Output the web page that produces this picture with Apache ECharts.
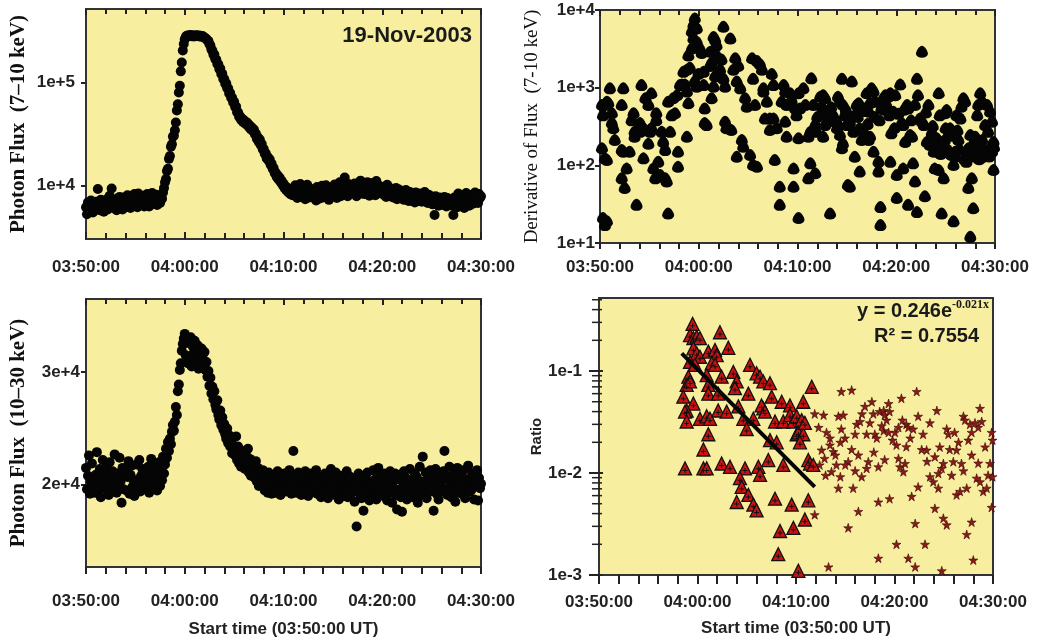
<!DOCTYPE html>
<html>
<head>
<meta charset="utf-8">
<script src="https://cdn.jsdelivr.net/npm/echarts@6/dist/echarts.min.js"></script>
<style>
html,body{margin:0;padding:0;background:#fff;}
#chart{width:1041px;height:639px;}
</style>
</head>
<body>
<div id="chart"></div>
<script>
// ---------- DATA ----------
// Panel 1: photon flux 7-10 keV, one value every 0.1 min from 03:50:00
const flux7to10Step = 0.1;
const flux7to10 = [
6200,5300,6900,6000,5700,7200,6400,5500,6800,5900,
7000,6100,9300,6500,5800,7300,6300,6900,5600,6700,
6200,7400,5900,6900,8000,6400,9400,7000,6100,7300,
6600,5800,7500,6800,7800,6200,7100,5900,7700,6700,
7300,6300,8100,6600,7600,6100,7900,7000,6400,8300,
6700,7700,6200,8400,7100,6500,7800,6800,8000,6300,
7300,6600,8300,7000,6300,7900,7200,8500,6700,7500,
7000,8200,6500,7700,7200,6800,7900,7500,8600,9500,
10800,11600,13900,14600,18200,19400,23800,25200,29900,30500,
34500,41000,53500,61500,80000,93000,128000,156000,204000,236000,
262000,275000,283000,279000,286000,281000,288000,280000,285000,278000,
284000,280000,287000,282000,285000,279000,283000,277000,281000,275000,
272000,266000,263000,255000,251000,236000,228000,209000,203000,186000,
186000,168000,166000,151000,150000,135000,136000,121000,121000,108000,
108000,97000,98000,88000,88000,78000,79000,71000,71000,64000,
65000,58000,58500,51500,51500,46500,47000,43500,44500,41500,
43000,40000,41500,39000,40000,37000,38000,35000,36500,34000,
35000,31500,32000,28500,29500,26500,28000,24800,25300,22500,
22700,20400,20600,18400,19000,17500,18000,16000,16300,14600,
14800,13300,13400,12200,12600,11500,12000,10900,11200,10200,
10500,9500,9900,9000,9500,8600,9100,8300,8900,8100,
9500,8200,10100,8600,7600,9200,8900,10400,8000,9300,
8100,9600,7400,8900,10200,8300,7700,9400,8600,7900,
9100,7800,8800,7200,9700,8300,7500,9000,8100,10000,
7700,9300,8400,10100,7900,8800,7300,9500,8200,9000,
9600,8100,10300,8500,7600,9200,8700,10800,7900,9000,
8300,9800,12000,8700,9400,7900,10400,9000,8500,10100,
9700,8600,10500,9100,7900,10200,8800,9600,11200,8400,
9000,10300,8300,9800,8700,10800,9200,8000,9900,8900,
10600,8700,9400,8100,11100,9000,8500,10000,8800,9500,
8400,9700,8100,9300,7800,10200,8700,9100,7900,9400,
9000,7700,8700,8100,9500,7400,8600,9200,7900,8300,
7600,8800,7300,8400,9100,7700,8200,7100,8700,7900,
8300,7200,8000,6900,8600,7500,7900,7100,8400,7600,
7000,8100,7300,8700,7200,7800,6800,8200,7400,7900,
7600,6600,7300,5200,7900,6900,7400,6400,7700,7000,
6800,7500,6500,7800,7000,6300,7600,6900,7300,6600,
7200,6400,5200,7700,6700,7400,6200,8400,6900,7300,
6600,7900,7000,6100,7500,8500,6800,7200,6400,7800,
7100,8200,6700,7800,8600,7000,7500,6800,8300,7600,
7900
];

// Panel 3: photon flux 10-30 keV, one value every 0.1 min from 03:50:00
const flux10to30Step = 0.1;
const flux10to30 = [
21500,19600,20800,22600,19200,20300,21900,19800,20600,19300,
20900,22900,19500,20200,21400,18900,20700,22200,19700,21100,
19900,21600,20400,19100,22000,20500,19400,21200,20100,22700,
20600,19300,21000,19800,22400,20300,18400,21500,19600,20800,
21300,19500,20700,22100,19200,20900,21700,19800,20400,19000,
20200,21800,19700,20500,22200,19400,20800,21400,19900,20600,
21000,19600,20300,21600,19300,20900,22300,19800,20500,21200,
20100,21700,19500,20800,22000,19900,21300,20400,22500,21000,
21800,23200,22400,23800,23000,24100,23600,24700,25300,24800,
25600,26900,26200,28300,28900,30200,30800,31900,32500,33000,
33400,31500,32600,30800,32900,31200,33100,30500,32300,31700,
32800,30900,31600,32400,30300,31900,30700,32100,31300,30600,
31800,30200,30900,29600,30100,28800,29500,28100,28700,27600,
28300,27100,26700,27500,26200,25800,26600,25300,26000,24900,
25400,24500,24100,25000,23700,24400,23400,23900,22800,23500,
23100,22600,24300,22200,23400,21900,22800,21600,23000,22100,
22600,21400,22900,21800,23200,21100,22300,20800,22000,21500,
21200,20600,22100,20300,21500,19900,21000,20500,20100,21300,
20700,19500,20900,20200,19300,21100,19800,20400,19200,20600,
19900,20800,19300,20400,21200,19600,20100,19100,20700,20300,
19700,21000,20200,19400,20600,19800,21300,20000,19200,20500,
23000,19900,20700,19300,20300,21100,19600,20900,19100,20400,
20100,19500,21200,19800,20600,19000,20400,21000,19700,20200,
19400,20800,20000,21300,19200,20500,19900,20700,18900,20300,
20600,19300,21000,19700,20200,18800,20900,19500,21400,20000,
19800,20500,19100,21100,19600,20300,18700,20800,19400,20100,
20400,19000,20900,19500,21200,18900,20200,19700,20700,19300,
19600,20600,18500,20100,16300,19800,21000,19200,20400,18800,
20200,17700,19500,20700,19000,21100,19700,18600,20300,19400,
19900,21300,19100,20500,18700,20000,21500,19300,20800,19600,
20100,19000,21000,19500,20400,18600,20700,19800,21200,19300,
18400,20300,19700,21000,19100,17800,20500,19400,20900,18900,
17600,19900,21200,19200,20600,18700,20100,19600,21400,19000,
20400,18900,19800,21000,19300,20700,18400,20200,21600,19500,
19100,22500,20300,19600,21100,18800,20000,20800,19400,21300,
19700,20600,17700,20100,21400,19200,20400,18700,21000,19800,
20300,19400,21200,23000,19600,20800,19100,20500,21600,19900,
18900,20700,19700,21100,18500,20200,21500,19300,20600,19800,
20900,19200,21300,20000,18800,20500,19600,21700,19400,20300,
19500,21000,20200,18700,20800,19900,21300,18600,20600,19700,
20100
];

// Panel 2: derivative of flux [minutes after 03:50, value]
const derivative = [
[0.2,600],[0.3,440],[0.5,600],[0.7,660],[0.2,166],[0.5,123],[0.7,117],[0.3,21],[0.5,17],[0.7,19],
[1.0,980],[1.2,470],[1.2,350],[1.35,300],[1.5,212],[0.84,630],[2.2,600],[2.36,980],[2.2,157],[2.36,150],
[2.5,51],[2.7,91],[2.2,68],[3.2,380],[3.4,470],[3.5,234],[3.7,31],[3.0,150],[3.5,270],[4.05,350],
[4.2,1080],[4.4,123],[4.6,730],[4.05,270],[4.4,300],[4.9,600],[4.9,190],[5.2,850],[5.2,300],[5.4,91],
[5.07,270],[5.7,470],[5.7,380],[5.9,111],[6.1,75],[6.25,270],[5.6,68],[6.4,200],[6.6,68],[6.76,62],
[6.9,24],[6.9,660],[7.1,270],[6.6,157],[7.26,440],[7.4,730],[7.6,470],[7.8,800],[7.9,96],[7.9,150],
[8.1,1080],[8.3,1100],[8.6,1100],[8.8,890],[8.95,630],[8.8,234],[8.45,1600],[8.8,1700],[9.1,1800],[8.95,2600],
[9.3,5300],[9.46,6400],[9.6,7800],[9.8,5800],[9.46,4300],[9.8,3900],[9.3,3200],[9.6,1200],[9.97,1500],[9.8,1030],
[10.1,3200],[10.3,2800],[10.5,1080],[10.6,350],[10.8,330],[10.6,540],[10.5,1600],[11.15,1900],[11.15,2900],[11.3,2100],
[11.5,4500],[11.66,4100],[11.8,3500],[11.3,730],[11.5,1030],[11.66,1400],[11.8,2600],[12.16,1700],[12.3,2300],[12.5,6100],
[12.67,365],[12.8,300],[12.5,1300],[12.67,1030],[13.2,4300],[13.3,285],[13.5,1700],[13.7,2400],[13.85,129],[13.85,1200],
[14.0,1900],[14.2,980],[14.36,212],[14.5,174],[14.7,730],[14.86,570],[15.2,136],[15.4,2400],[15.5,1300],[15.5,101],
[15.7,600],[15.9,96],[15.9,2200],[16.2,2000],[16.4,1700],[16.55,980],[16.55,890],[16.7,400],[16.9,660],[17.2,400],
[17.4,1500],[17.57,1080],[17.7,117],[17.9,300],[17.2,285],[17.57,400],[18.2,53],[18.2,31],[18.4,660],[18.6,1080],
[18.75,365],[18.9,234],[18.9,600],[18.75,890],[19.26,850],[19.4,690],[19.6,91],[19.6,53],[19.76,540],[19.9,440],
[20.1,223],[20.1,21],[20.1,850],[20.25,540],[20.6,980],[20.8,600],[21.3,270],[21.4,1320],[21.6,600],[21.8,330],
[21.9,270],[21.1,234],[21.3,106],[21.1,68],[21.8,79],[22.3,765],[22.45,570],[22.6,800],[22.8,730],[22.8,330],
[22.96,440],[23.1,365],[23.3,24],[22.6,234],[23.6,440],[23.8,380],[23.97,365],[24.1,765],[24.3,660],[24.5,1300],
[24.6,600],[24.8,440],[24.3,246],[24.5,166],[24.6,190],[25.1,56],[25.3,53],[25.0,330],[25.5,1200],[25.66,270],
[25.8,440],[26.0,600],[26.2,630],[26.3,300],[26.5,212],[25.8,129],[26.3,83],[26.7,270],[26.8,540],[27.0,850],
[27.2,490],[27.35,630],[27.5,980],[27.7,890],[27.85,660],[27.2,212],[27.35,234],[27.7,150],[28.2,111],[28.2,83],
[28.4,29],[28.4,17],[28.5,540],[28.7,730],[28.9,800],[29.0,600],[29.2,765],[29.4,850],[29.5,258],[29.7,490],
[29.4,111],[29.9,800],[30.05,75],[30.05,38],[30.4,1100],[30.56,350],[30.7,330],[30.9,200],[31.1,600],[31.2,540],
[31.4,246],[31.6,234],[31.2,31],[30.7,91],[31.9,600],[32.1,1300],[32.2,800],[32.4,400],[32.6,365],[32.6,2900],
[31.7,106],[31.9,62],[32.1,25],[32.9,40],[33.1,200],[33.26,600],[33.4,183],[33.8,150],[33.9,91],[34.1,223],
[34.3,850],[34.4,440],[34.6,183],[34.3,87],[34.8,68],[34.6,24],[34.95,470],[35.1,515],[35.3,246],[35.45,300],
[35.6,136],[35.8,101],[35.96,150],[35.8,19],[36.1,440],[36.3,212],[36.5,400],[36.6,570],[36.8,730],[36.97,660],
[37.1,111],[37.3,166],[37.5,246],[37.65,68],[37.3,51],[37.8,28],[37.5,12],[38.0,234],[38.2,440],[38.3,600],
[38.5,850],[38.7,660],[38.8,129],[39.0,330],[39.2,600],[39.5,490],[39.7,365],[39.85,200],[39.7,150],[39.85,87],
[39.5,166],[39.3,270],[38.7,212],
[33.6,260],[34.0,170],[34.5,140],[34.9,210],[35.2,160],[35.5,240],[36.0,130],[36.4,160],[36.9,120],[37.2,140],
[37.7,130],[38.1,150],[38.4,120],[38.9,150],[39.4,130],[39.9,170],[35.0,300],[36.2,280],[37.9,200],[38.6,180],
[22.0,420],[22.7,500],[23.4,560],[24.0,300],[24.9,520],[25.3,360],[26.1,420],[26.6,500],[27.1,340],[27.8,420],
[28.3,380],[28.8,520],[29.3,440],[29.8,300],[30.2,460],[30.8,520],[31.5,380],[32.8,330],[33.0,480],[33.7,320]
];

// Panel 4: ratio during rise/decay (triangles) and afterwards (stars)
const ratioFlare = [
[9.5,0.29],[9.24,0.225],[9.58,0.21],[9.92,0.217],[10.25,0.21],[12.28,0.24],[13.13,0.169],[9.58,0.167],[9.92,0.149],[10.25,0.138],
[11.1,0.155],[11.78,0.161],[11.95,0.143],[9.24,0.123],[9.75,0.115],[11.44,0.119],[11.78,0.115],[9.07,0.088],[8.9,0.073],[9.24,0.079],
[10.93,0.091],[11.1,0.073],[12.45,0.088],[13.64,0.098],[13.98,0.079],[13.8,0.068],[15.33,0.115],[16.0,0.095],[16.35,0.088],[16.68,0.079],
[17.36,0.076],[8.56,0.056],[9.58,0.048],[11.1,0.060],[12.1,0.060],[8.9,0.041],[8.73,0.040],[10.25,0.034],[10.93,0.036],[11.27,0.034],
[12.1,0.041],[12.96,0.040],[8.9,0.032],[14.15,0.045],[15.16,0.060],[16.68,0.043],[17.53,0.056],[18.55,0.050],[19.39,0.046],[11.1,0.024],
[10.6,0.017],[14.65,0.034],[15.67,0.034],[14.99,0.027],[16.5,0.046],[16.85,0.040],[17.87,0.032],[18.71,0.032],[19.39,0.037],[19.73,0.032],
[20.07,0.024],[17.36,0.021],[18.04,0.020],[8.73,0.0111],[10.6,0.0111],[10.93,0.0111],[12.45,0.0124],[13.3,0.0115],[14.82,0.0111],[16.18,0.0115],
[16.35,0.0096],[17.19,0.0134],[18.71,0.0120],[14.31,0.0089],[14.48,0.0073],[15.16,0.0061],[13.98,0.0052],[15.67,0.0049],[16.0,0.0043],[17.87,0.0056],
[19.56,0.0049],[18.38,0.0027],[19.73,0.0029],[18.2,0.0016],[20.24,0.0011],
[21.6,0.070],[20.74,0.050],[20.07,0.036],[20.57,0.033],[20.24,0.025],[20.74,0.024],[20.4,0.020],[20.9,0.031],[21.25,0.0134],[21.42,0.0124],
[21.76,0.0120],[21.25,0.0054],[20.9,0.0035]
];
const ratioLate = [
[21.9,0.038],[22.8,0.037],[22.3,0.028],[23.1,0.025],[23.45,0.022],[22.6,0.0168],[22.9,0.0139],[23.45,0.0188],[23.8,0.0162],[23.6,0.0103],
[24.1,0.012],[24.5,0.020],[24.3,0.036],[24.8,0.037],[24.6,0.027],[24.97,0.022],[24.5,0.0092],[24.3,0.0071],[25.8,0.0071],[25.3,0.0129],
[25.65,0.017],[26.0,0.024],[26.16,0.030],[26.5,0.032],[26.33,0.015],[26.7,0.038],[27.0,0.045],[27.17,0.024],[27.34,0.0129],[27.7,0.050],
[27.5,0.031],[27.85,0.038],[28.0,0.024],[28.36,0.0115],[28.2,0.022],[28.5,0.040],[28.9,0.041],[29.0,0.037],[29.2,0.033],[29.5,0.040],
[29.4,0.048],[28.9,0.026],[29.4,0.025],[30.05,0.025],[30.2,0.0188],[30.4,0.028],[30.7,0.054],[31.2,0.030],[31.4,0.028],[30.4,0.0139],
[30.56,0.0115],[30.9,0.0103],[31.07,0.0124],[31.2,0.0181],[31.9,0.027],[32.25,0.063],[32.4,0.036],[32.76,0.017],[33.26,0.0168],[33.6,0.031],
[34.3,0.041],[34.1,0.0144],[34.45,0.0099],[34.8,0.0111],[34.96,0.0124],[35.3,0.027],[35.46,0.024],[35.6,0.017],[35.97,0.0129],[36.3,0.0168],
[36.5,0.020],[36.8,0.0124],[37.0,0.036],[37.16,0.033],[37.33,0.0071],[37.66,0.030],[37.83,0.025],[38.17,0.031],[38.34,0.0089],[38.5,0.028],
[38.68,0.043],[38.85,0.032],[39.0,0.0066],[39.36,0.0071],[39.7,0.0124],[39.86,0.025],[39.95,0.021],[39.95,0.0092],[37.5,0.021],[37.83,0.015],
[27.17,0.0111],[26.67,0.0092],
[21.9,0.0039],[23.3,0.0012],[25.3,0.0029],[26.33,0.0042],[28.36,0.0052],[29.5,0.0056],[28.36,0.00146],[30.2,0.0020],[31.4,0.00146],[32.1,0.0012],
[33.1,0.0020],[34.8,0.0011],[34.1,0.0045],[34.96,0.0036],[35.3,0.0031],[32.1,0.0032],[31.74,0.0059],[32.4,0.0073],[33.6,0.0092],[33.94,0.0082],
[34.45,0.0071],[36.3,0.0061],[36.65,0.0066],[37.33,0.0025],[37.83,0.0033],[38.0,0.0014],[38.68,0.0082],[39.86,0.0046],[24.6,0.063],[25.65,0.065],
[22.4,0.012],[23.0,0.0095],[24.0,0.015],[25.0,0.012],[26.0,0.0105],[27.9,0.016],[29.0,0.0135],[29.8,0.021],[31.6,0.022],[32.9,0.024],
[33.3,0.013],[34.6,0.018],[35.8,0.0095],[36.1,0.025],[37.0,0.0105],[38.5,0.0125],[39.2,0.018],[39.5,0.0095],[30.8,0.033],[28.7,0.029]
];
// Exponential fit line end points
const fitLine = [[8.4,0.149],[21.9,0.0073]];

// Tick values
const timeStartMinutes = 230; // 03:50
const p1YTicks = [1e4, 1e5];
const p2YTicks = [10, 100, 1000, 10000];
const p3YTicks = [20000, 30000];
const p4YTicks = [0.001, 0.01, 0.1];
const p4YMinor = [0.002,0.003,0.004,0.005,0.006,0.007,0.008,0.009,0.02,0.03,0.04,0.05,0.06,0.07,0.08,0.09,0.2,0.3,0.4,0.5];

// ---------- CHART ----------
const BG = '#F7EF9F';
const INK = '#222';
const SANS = '"Liberation Sans", Arial, sans-serif';
const SERIF = '"Liberation Serif", "Times New Roman", serif';
const P4_MIN = 0.001, P4_MAX = 0.52;

function pad(n){ return (n < 10 ? '0' : '') + n; }
function fmtTime(v){
  const tot = timeStartMinutes + v;
  const h = Math.floor(tot / 60), m = Math.round(tot % 60);
  return pad(h) + ':' + pad(m) + ':00';
}
function expLabel(e){ return '1e' + (e >= 0 ? '+' : '-') + Math.abs(e); }
function fmtExp(v){
  const e = Math.round(Math.log10(v));
  if (Math.abs(Math.log10(v) - e) > 1e-6) return '';
  return expLabel(e);
}
const p1Data = flux7to10.map((v, i) => [+(i * flux7to10Step).toFixed(2), v]);
const p3Data = flux10to30.map((v, i) => [+(i * flux10to30Step).toFixed(2), v]);
// tick marks of the ratio axis, placed on the left edge (x = 0) through the log scale
const p4MajorTickMarks = p4YTicks.map(v => [0, v]);
const p4MinorTickMarks = p4YMinor.map(v => [0, v]);

function xBottom(grid, opts){
  return Object.assign({
    gridIndex: grid, type: 'value', min: 0, max: 40, interval: 10, position: 'bottom',
    axisLine: {show: false}, splitLine: {show: false},
    axisTick: {show: true, inside: true, length: 7, lineStyle: {color: INK, width: 2}},
    minorTick: {show: true, splitNumber: 5, length: 6, lineStyle: {color: INK, width: 2}},
    axisLabel: {formatter: fmtTime, fontFamily: SANS, fontWeight: 'bold', fontSize: 17, color: INK, margin: 20}
  }, opts || {});
}
function xTop(grid){
  return {
    gridIndex: grid, type: 'value', min: 0, max: 40, interval: 10, position: 'top',
    axisLine: {show: false}, splitLine: {show: false}, axisLabel: {show: false},
    axisTick: {show: true, inside: true, length: 6, lineStyle: {color: INK, width: 2}},
    minorTick: {show: true, splitNumber: 5, length: 5, lineStyle: {color: INK, width: 2}}
  };
}
function xlab(margin){
  return {formatter: fmtTime, fontFamily: SANS, fontWeight: 'bold', fontSize: 17, color: INK, margin: margin};
}
const ylabel = {fontFamily: SANS, fontWeight: 'bold', fontSize: 17, color: INK};

const bellPath = 'path://M10,1 C14,1 19,9 19,13 A9,6 0 0 1 1,13 C1,9 6,1 10,1 Z';
const starPath = 'path://M50,0 L61,35 L98,35 L68,57 L79,91 L50,70 L21,91 L32,57 L2,35 L39,35 Z';
const plusPath = 'path://M4,0 H6 V4 H10 V6 H6 V10 H4 V6 H0 V4 H4 Z';

const option = {
  animation: false,
  backgroundColor: '#ffffff',
  grid: [
    {left: 86, top: 9, width: 395, height: 230, show: true, backgroundColor: BG, borderColor: '#333', borderWidth: 2},
    {left: 600, top: 10, width: 395, height: 233, show: true, backgroundColor: BG, borderColor: '#333', borderWidth: 2},
    {left: 86, top: 299, width: 395, height: 269, show: true, backgroundColor: BG, borderColor: '#333', borderWidth: 2},
    {left: 599, top: 298, width: 394, height: 277, show: true, backgroundColor: BG, borderColor: '#333', borderWidth: 2}
  ],
  xAxis: [
    xBottom(0),
    xTop(0),
    xBottom(1, {axisTick: {show: true, inside: false, length: 6, lineStyle: {color: INK, width: 2}},
                minorTick: {show: true, splitNumber: 5, length: 6, lineStyle: {color: INK, width: 2}},
                axisLabel: xlab(16)}),
    xTop(1),
    xBottom(2, {axisTick: {show: true, inside: false, length: 7, lineStyle: {color: INK, width: 2}},
                minorTick: {show: true, splitNumber: 5, length: 7, lineStyle: {color: INK, width: 2}},
                axisLabel: xlab(26),
                name: 'Start time (03:50:00 UT)', nameLocation: 'middle', nameGap: 54,
                nameTextStyle: {fontFamily: SANS, fontWeight: 'bold', fontSize: 17, color: INK}}),
    xTop(2),
    xBottom(3, {axisTick: {show: true, inside: false, length: 9, lineStyle: {color: INK, width: 2}},
                minorTick: {show: true, splitNumber: 5, length: 9, lineStyle: {color: INK, width: 2}},
                axisLabel: xlab(19),
                name: 'Start time (03:50:00 UT)', nameLocation: 'middle', nameGap: 45,
                nameTextStyle: {fontFamily: SANS, fontWeight: 'bold', fontSize: 17, color: INK}})
  ],
  yAxis: [
    {gridIndex: 0, type: 'log', logBase: 10, min: 3050, max: 514000,
     axisLine: {show: false}, splitLine: {show: false}, minorTick: {show: false},
     axisTick: {show: true, inside: false, length: 5, customValues: p1YTicks, lineStyle: {color: INK, width: 2}},
     axisLabel: Object.assign({formatter: fmtExp, customValues: p1YTicks, margin: 11}, ylabel),
     name: 'Photon Flux  (7–10 keV)', nameLocation: 'middle', nameGap: 57,
     nameTextStyle: {fontFamily: SERIF, fontWeight: 'bold', fontSize: 21, color: '#111'}},
    {gridIndex: 1, type: 'log', logBase: 10, min: 10, max: 10000,
     axisLine: {show: false}, splitLine: {show: false}, minorTick: {show: false},
     axisTick: {show: true, inside: false, length: 5, customValues: p2YTicks, lineStyle: {color: INK, width: 2}},
     axisLabel: Object.assign({formatter: fmtExp, customValues: p2YTicks, margin: 5}, ylabel),
     name: 'Derivative of Flux  (7-10 keV)', nameLocation: 'middle', nameGap: 58,
     nameTextStyle: {fontFamily: SERIF, fontWeight: 'normal', fontSize: 19, color: '#111'}},
    {gridIndex: 2, type: 'value', min: 12700, max: 36500,
     axisLine: {show: false}, splitLine: {show: false},
     axisTick: {show: true, inside: false, length: 5, customValues: p3YTicks, lineStyle: {color: INK, width: 2}},
     axisLabel: Object.assign({formatter: v => (v / 10000) + 'e+4', customValues: p3YTicks, margin: 6}, ylabel),
     name: 'Photon Flux  (10–30 keV)', nameLocation: 'middle', nameGap: 57,
     nameTextStyle: {fontFamily: SERIF, fontWeight: 'bold', fontSize: 21, color: '#111'}},
    // panel 4 data axis (log scale), kept invisible on the right edge
    {gridIndex: 3, type: 'log', logBase: 10, min: P4_MIN, max: P4_MAX, position: 'right', show: false,
     splitLine: {show: false}},
    // companion axis in decades (log10 of the ratio) carrying the labels and the axis name
    {gridIndex: 3, type: 'value', min: Math.log10(P4_MIN), max: Math.log10(P4_MAX), position: 'left',
     axisLine: {show: false}, splitLine: {show: false}, minorTick: {show: false},
     axisTick: {show: false},
     axisLabel: Object.assign({formatter: v => expLabel(Math.round(v)),
                               customValues: p4YTicks.map(v => Math.log10(v)), margin: 17}, ylabel),
     name: 'Ratio', nameLocation: 'middle', nameGap: 55,
     nameTextStyle: {fontFamily: SANS, fontWeight: 'bold', fontSize: 15, color: INK}}
  ],
  graphic: [
    {type: 'text', x: 472, y: 36, z: 100,
     style: {text: '19-Nov-2003', align: 'right', verticalAlign: 'middle', fill: '#1a1a1a',
             font: 'bold 22px "Liberation Sans", Arial, sans-serif'}},
    {type: 'text', x: 857, y: 311, z: 100,
     style: {text: '{a|y = 0.246e}{b|-0.021x}', align: 'left', verticalAlign: 'middle',
             rich: {a: {fontFamily: SANS, fontWeight: 'bold', fontSize: 20, fill: '#1a1a1a'},
                    b: {fontFamily: SERIF, fontWeight: 'bold', fontSize: 12, fill: '#1a1a1a', padding: [0, 0, 13, 0]}}}},
    {type: 'text', x: 874, y: 336, z: 100,
     style: {text: 'R² = 0.7554', align: 'left', verticalAlign: 'middle', fill: '#1a1a1a',
             font: 'bold 20px "Liberation Sans", Arial, sans-serif'}}
  ],
  series: [
    {type: 'scatter', xAxisIndex: 0, yAxisIndex: 0, data: p1Data, symbol: 'circle', symbolSize: 10,
     itemStyle: {color: '#050505', opacity: 1}},
    {type: 'scatter', xAxisIndex: 2, yAxisIndex: 1, data: derivative, symbol: bellPath, symbolSize: 12,
     itemStyle: {color: '#050505', opacity: 1}},
    {type: 'scatter', xAxisIndex: 4, yAxisIndex: 2, data: p3Data, symbol: 'circle', symbolSize: 10,
     itemStyle: {color: '#050505', opacity: 1}},
    {type: 'scatter', xAxisIndex: 6, yAxisIndex: 3, data: ratioLate, symbol: starPath, symbolSize: 9,
     itemStyle: {color: '#8B1A1A', borderColor: '#3a0606', borderWidth: 0.6, opacity: 1}},
    {type: 'scatter', xAxisIndex: 6, yAxisIndex: 3, data: ratioFlare, symbol: 'triangle', symbolSize: 13,
     itemStyle: {color: '#CC1111', borderColor: '#111', borderWidth: 1.3, opacity: 1}},
    {type: 'scatter', xAxisIndex: 6, yAxisIndex: 3, data: ratioFlare, symbol: plusPath, symbolSize: 5,
     symbolOffset: [0, 2], itemStyle: {color: '#111', opacity: 1}, silent: true},
    {type: 'line', xAxisIndex: 6, yAxisIndex: 3, data: fitLine, symbol: 'none',
     lineStyle: {color: '#050505', width: 4}, z: 10},
    // log-axis tick marks of the ratio panel (decades and 2..9 minor ticks) across the left edge
    {type: 'scatter', xAxisIndex: 6, yAxisIndex: 3, data: p4MajorTickMarks, symbol: 'rect',
     symbolSize: [14, 2], symbolOffset: [-3, 0], clip: false, silent: true, z: 20,
     itemStyle: {color: INK, opacity: 1}},
    {type: 'scatter', xAxisIndex: 6, yAxisIndex: 3, data: p4MinorTickMarks, symbol: 'rect',
     symbolSize: [10, 1.5], symbolOffset: [-2, 0], clip: false, silent: true, z: 20,
     itemStyle: {color: INK, opacity: 1}}
  ]
};
const chart = echarts.init(document.getElementById('chart'), null, {renderer: 'canvas'});
chart.setOption(option);
</script>
</body>
</html>
